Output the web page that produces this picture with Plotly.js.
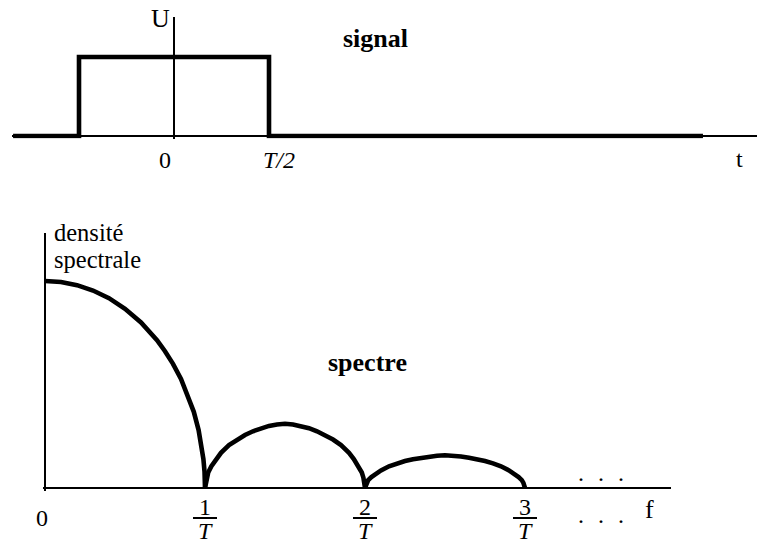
<!DOCTYPE html>
<html>
<head>
<meta charset="utf-8">
<script src="https://cdn.plot.ly/plotly-3.0.1.min.js"></script>
<style>html,body{margin:0;padding:0;background:#fff;}#chart{width:757px;height:546px;}</style>
</head>
<body>
<div id="chart"></div>
<script>
// ---- data ----
// top panel: rectangular pulse signal (t in units of T, amplitude U = 1)
const signalT = [-0.847, -0.5, -0.5, 0.5, 0.5, 2.784];
const signalU = [0, 0, 1, 1, 0, 0];

// bottom panel: spectral density lobes (f in units of 1/T, peak = 1)
const lobe1F = [0, 0.1, 0.2, 0.3, 0.4, 0.5, 0.6, 0.7, 0.75, 0.8, 0.85, 0.9, 0.93, 0.96, 0.98, 0.99, 0.997, 1.0];
const lobe1D = [1.0, 0.995, 0.98, 0.954, 0.917, 0.866, 0.8, 0.714, 0.661, 0.6, 0.527, 0.436, 0.368, 0.28, 0.2, 0.14, 0.08, 0];
const lobe2F = [1.0, 1.01, 1.02, 1.04, 1.07, 1.1, 1.15, 1.2, 1.25, 1.3, 1.35, 1.4, 1.45, 1.5,
                1.55, 1.6, 1.65, 1.7, 1.75, 1.8, 1.85, 1.9, 1.93, 1.96, 1.98, 1.99, 2.0];
const lobe2D = [0, 0.05, 0.075, 0.105, 0.14, 0.17, 0.207, 0.234, 0.256, 0.274, 0.289, 0.3, 0.307, 0.31,
                0.307, 0.3, 0.289, 0.274, 0.256, 0.234, 0.207, 0.17, 0.14, 0.105, 0.075, 0.05, 0];
const lobe3F = [2.0, 2.01, 2.02, 2.04, 2.07, 2.1, 2.15, 2.2, 2.25, 2.3, 2.35, 2.4, 2.45, 2.5,
                2.55, 2.6, 2.65, 2.7, 2.75, 2.8, 2.85, 2.9, 2.93, 2.96, 2.98, 2.99, 3.0];
const lobe3D = [0, 0.025, 0.038, 0.053, 0.07, 0.085, 0.105, 0.119, 0.13, 0.139, 0.146, 0.152, 0.156, 0.158,
                0.156, 0.152, 0.146, 0.139, 0.13, 0.119, 0.105, 0.085, 0.07, 0.053, 0.038, 0.025, 0];

// tick labels
const topTickVals = [0, 0.5];
const topTickText = ['0', '<i>T/2</i>'];
const fracTickVals = [1, 2, 3];
const fracNumerators = ['1', '2', '3'];
const fracDenominator = '<i>T</i>';

// ---- layout helpers ----
const W = 757, H = 546;
const py = p => 1 - p / H;
const px = p => p / W;
const serif = '"Liberation Serif", "Times New Roman", serif';
const fReg = {family: serif, size: 24, color: '#000'};
const fLabel = {family: serif, size: 26, color: '#000'};
const fAxisTitle = {family: serif, size: 24.5, color: '#000'};
const fBold = {family: serif, size: 26, color: '#000', weight: 'bold'};

const thick = {color: '#000', width: 4.6};

const traces = [
  {x: signalT, y: signalU, xaxis: 'x', yaxis: 'y', mode: 'lines', line: thick, hoverinfo: 'skip'},
  {x: lobe1F, y: lobe1D, xaxis: 'x2', yaxis: 'y2', mode: 'lines', line: thick, hoverinfo: 'skip'},
  {x: lobe2F, y: lobe2D, xaxis: 'x2', yaxis: 'y2', mode: 'lines', line: thick, hoverinfo: 'skip'},
  {x: lobe3F, y: lobe3D, xaxis: 'x2', yaxis: 'y2', mode: 'lines', line: thick, hoverinfo: 'skip'}
];

const axBase = {showgrid: false, showticklabels: false, ticks: '', showline: false, fixedrange: true};

const annotations = [];
function ann(text, x, y, font, xref, extra) {
  annotations.push(Object.assign({text: text, x: x, y: y, xref: xref || 'paper', yref: 'paper',
    showarrow: false, font: font, xanchor: 'center', yanchor: 'middle'}, extra || {}));
}
// top panel texts
ann('U', px(160), py(19), fLabel);
ann('signal', px(375), py(38.5), fBold);
topTickVals.forEach((v, i) => ann(topTickText[i], v + (i === 0 ? -0.05 : 0.05), py(160), fReg, 'x'));
ann('t', px(739), py(159), fReg);
// bottom panel texts
ann('densité', px(52), py(232.5), fAxisTitle, 'paper', {xanchor: 'left'});
ann('spectrale', px(52), py(259.5), fAxisTitle, 'paper', {xanchor: 'left'});
ann('spectre', px(367), py(362.5), fBold);
ann('0', px(41.5), py(518), fReg);
fracTickVals.forEach((v, i) => {
  ann(fracNumerators[i], v, py(507), fReg, 'x2');
  ann(fracDenominator, v, py(530.5), fReg, 'x2');
});
const dots = '.\u00a0\u00a0\u200a.\u00a0\u00a0\u200a.';
ann(dots, px(601), py(472.5), fReg);
ann(dots, px(601), py(515), fReg);
ann('f', px(649), py(509), fLabel);

const shapes = fracTickVals.map(v => ({
  type: 'line', xref: 'x2', yref: 'paper', x0: v - 0.075, x1: v + 0.075,
  y0: py(518), y1: py(518), line: {color: '#000', width: 2}
}));

const layout = {
  width: W, height: H,
  margin: {l: 0, r: 0, t: 0, b: 0, pad: 0},
  paper_bgcolor: '#fff', plot_bgcolor: '#fff',
  showlegend: false,
  xaxis: Object.assign({}, axBase, {domain: [px(12), 1], range: [(12 - 174) / 190, (757 - 174) / 190],
    zeroline: true, zerolinecolor: '#000', zerolinewidth: 1.6, anchor: 'y'}),
  yaxis: Object.assign({}, axBase, {domain: [py(138.5), py(17)], range: [-2.5 / 79, (136 - 17) / 79],
    zeroline: true, zerolinecolor: '#000', zerolinewidth: 1.6, anchor: 'x'}),
  xaxis2: Object.assign({}, axBase, {domain: [px(42.5), px(671)], range: [-2.5 / 160, (671 - 45) / 160],
    zeroline: true, zerolinecolor: '#000', zerolinewidth: 2, anchor: 'y2'}),
  yaxis2: Object.assign({}, axBase, {domain: [py(490.5), py(233)], range: [-2.5 / 207, (488 - 233) / 207],
    zeroline: true, zerolinecolor: '#000', zerolinewidth: 2, anchor: 'x2'}),
  annotations: annotations,
  shapes: shapes
};

Plotly.newPlot('chart', traces, layout, {displayModeBar: false, staticPlot: true});
</script>
</body>
</html>
